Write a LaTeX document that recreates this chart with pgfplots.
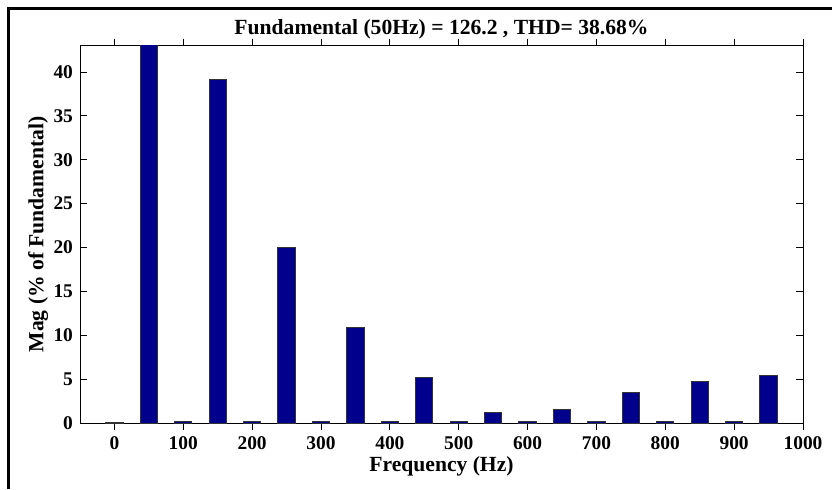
\documentclass[border=0pt]{standalone}
\usepackage{fontspec}
\setmainfont{Liberation Serif}
\usepackage{pgfplots}
\pgfplotsset{compat=1.18}
\definecolor{barblue}{RGB}{0,0,140}
\begin{document}
\begin{tikzpicture}
\useasboundingbox (0,0) rectangle (416pt,244.5pt);
\draw[line width=1.4pt] (4.35pt,0) -- (4.35pt,240.15pt) -- (416pt,240.15pt);
\begin{axis}[
  at={(40pt,33pt)}, anchor=south west,
  scale only axis, width=361.5pt, height=188.65pt,
  xmin=-50, xmax=1000, ymin=0, ymax=43,
  xtick={0,100,...,1000}, ytick={0,5,...,40},
  tick align=inside, major tick length=3.5pt,
  minor tick num=0,
  axis line style={line width=0.5pt},
  tick style={line width=0.5pt, black},
  /pgf/number format/assume math mode=true,
  /pgf/number format/1000 sep={},
  ticklabel style={font=\fontsize{9.7}{11}\selectfont\bfseries},
  title={Fundamental (50Hz) = 126.2 , THD= 38.68\%},
  every axis title/.style={font=\fontsize{10.8}{12}\selectfont\bfseries, at={(axis description cs:0.5,1.044)}, anchor=center},
  xlabel={Frequency (Hz)},
  xlabel style={font=\fontsize{10.8}{12}\selectfont\bfseries, at={(axis description cs:0.5,-0.116)}, anchor=center},
  ylabel={Mag (\% of Fundamental)},
  ylabel style={font=\fontsize{10.8}{12}\selectfont\bfseries, at={(axis description cs:-0.058,0.5)}, anchor=center},
  ybar, bar width=25,
  clip=true,
]
\addplot[fill=barblue, draw=black!80, line width=0.5pt] coordinates {
(0,0.1) (50,100) (100,0.15) (150,39.1) (200,0.15) (250,20.05) (300,0.15)
(350,10.85) (400,0.15) (450,5.2) (500,0.15) (550,1.25) (600,0.15)
(650,1.5) (700,0.15) (750,3.5) (800,0.15) (850,4.7) (900,0.15) (950,5.45)
};
\end{axis}
\end{tikzpicture}
\end{document}
